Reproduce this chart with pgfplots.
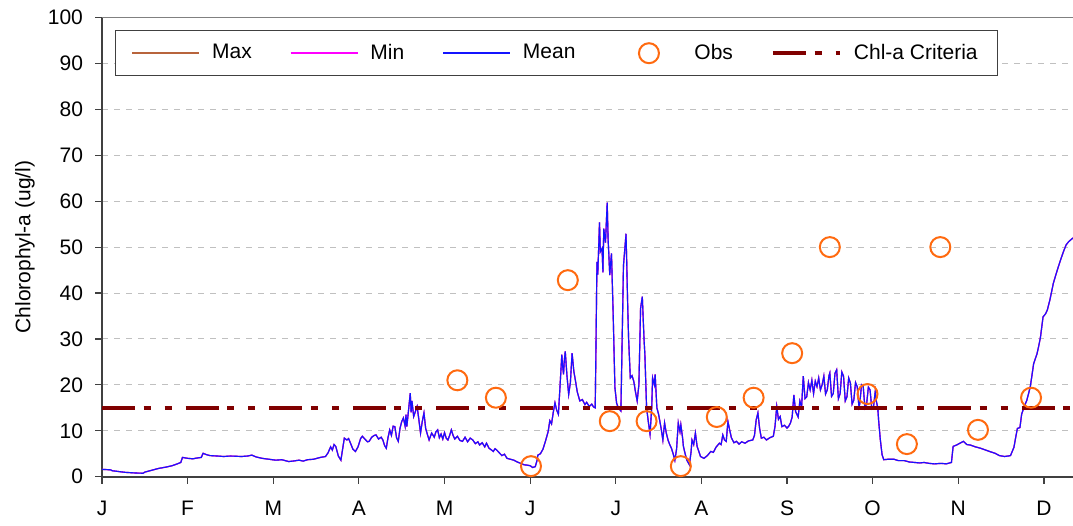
\documentclass[border=0pt]{standalone}
\usepackage{pgfplots}
\pgfplotsset{compat=1.18}
\usepackage{pgfplotstable}
\usepackage{fontspec}
\setmainfont{Liberation Sans}
\definecolor{maxc}{HTML}{B8643C}
\definecolor{minc}{HTML}{FF00FF}
\definecolor{meanc}{HTML}{1414FF}
\definecolor{obsc}{HTML}{FF6A10}
\definecolor{critc}{HTML}{800000}
\definecolor{gridc}{HTML}{C0C0C0}
\definecolor{axc}{HTML}{404040}

\pgfplotsset{
  obslegend/.style={legend image code/.code={\path[draw=none] (0pt,0pt) -- (34.5pt,0pt); \draw[##1] plot coordinates {(17.75pt,0pt)};}}
}

\pgfplotstableread{
m y
0.00 1.6
0.10 1.5
0.12 1.3
0.27 0.95
0.40 0.8
0.48 0.75
0.50 1.0
0.54 1.2
0.60 1.5
0.66 1.8
0.75 2.1
0.82 2.4
0.88 2.8
0.92 3.1
0.94 4.2
1.00 4.0
1.06 3.9
1.12 4.1
1.16 4.2
1.18 5.1
1.22 4.8
1.26 4.6
1.35 4.5
1.42 4.4
1.50 4.5
1.63 4.4
1.70 4.5
1.75 4.7
1.80 4.3
1.87 4.0
1.95 3.8
2.03 3.6
2.10 3.7
2.18 3.3
2.23 3.4
2.30 3.6
2.35 3.4
2.40 3.7
2.47 3.8
2.55 4.2
2.61 4.4
2.64 5.2
2.67 6.5
2.69 5.8
2.71 7.0
2.73 6.6
2.76 4.5
2.79 3.6
2.81 6.0
2.83 8.4
2.86 8.0
2.88 8.3
2.90 7.4
2.93 6.0
2.96 5.5
2.99 6.5
3.02 8.3
3.04 8.8
3.07 8.2
3.10 7.6
3.12 7.7
3.15 8.6
3.18 9.0
3.20 9.1
3.23 8.2
3.26 8.6
3.28 8.0
3.30 6.8
3.32 6.2
3.34 8.5
3.36 10.2
3.38 9.0
3.40 11.0
3.42 10.9
3.44 8.5
3.46 7.7
3.48 10.5
3.50 12.0
3.52 12.8
3.54 11.0
3.55 13.5
3.56 10.9
3.58 14.5
3.60 18.2
3.61 14.0
3.62 16.5
3.64 13.1
3.66 14.2
3.68 15.3
3.70 12.5
3.72 9.5
3.74 12.0
3.76 13.9
3.78 10.5
3.80 9.2
3.82 8.0
3.85 9.5
3.88 8.6
3.90 9.8
3.92 10.2
3.94 8.5
3.96 9.3
3.98 8.2
4.00 9.6
4.02 8.4
4.04 8.0
4.06 9.0
4.08 10.2
4.10 9.0
4.12 8.2
4.15 8.8
4.18 7.9
4.21 7.7
4.24 8.6
4.27 7.6
4.30 8.4
4.33 8.0
4.36 7.2
4.39 7.6
4.41 6.9
4.44 7.4
4.47 6.5
4.49 7.3
4.52 6.2
4.55 5.8
4.57 5.5
4.59 6.1
4.61 5.8
4.64 5.2
4.67 4.6
4.70 4.9
4.73 4.0
4.77 3.8
4.81 3.6
4.85 3.2
4.89 2.9
4.93 2.6
4.97 2.5
5.00 2.4
5.03 2.0
5.06 2.2
5.08 3.5
5.09 4.7
5.12 5.0
5.15 6.0
5.18 7.8
5.21 9.8
5.23 12.2
5.25 11.5
5.27 14.0
5.29 16.1
5.31 14.5
5.33 13.6
5.35 20.0
5.37 26.6
5.38 24.0
5.39 22.3
5.40 25.5
5.41 27.3
5.43 22.0
5.45 17.9
5.47 20.5
5.49 26.9
5.51 23.0
5.53 20.8
5.55 18.5
5.58 16.5
5.61 16.8
5.64 15.7
5.66 16.2
5.69 15.3
5.72 15.8
5.74 15.2
5.76 15.0
5.77 30.0
5.78 46.8
5.79 44.0
5.81 55.4
5.82 49.0
5.84 49.7
5.85 44.5
5.86 54.0
5.88 51.0
5.90 59.7
5.91 52.0
5.93 43.9
5.94 46.5
5.95 48.6
5.96 42.0
5.97 35.2
5.99 19.4
6.01 16.0
6.03 15.0
6.06 14.3
6.07 25.0
6.09 46.0
6.12 52.9
6.13 45.0
6.14 36.7
6.15 30.0
6.17 21.5
6.19 22.0
6.21 20.8
6.23 18.5
6.25 16.5
6.27 20.0
6.29 36.7
6.31 39.2
6.33 30.0
6.34 26.6
6.36 15.0
6.38 12.0
6.40 9.3
6.42 15.0
6.43 21.5
6.45 20.0
6.46 22.3
6.48 15.0
6.50 13.6
6.53 10.5
6.55 8.0
6.57 11.7
6.59 9.5
6.61 8.0
6.63 7.0
6.65 6.2
6.67 5.0
6.69 3.6
6.71 6.0
6.73 11.7
6.75 9.8
6.76 11.3
6.78 8.5
6.79 6.6
6.81 5.0
6.83 3.6
6.86 2.6
6.88 5.5
6.89 8.0
6.91 7.0
6.93 9.5
6.95 6.6
6.97 5.5
6.99 4.4
7.03 4.0
7.07 4.6
7.11 5.5
7.14 5.3
7.17 6.4
7.21 7.3
7.23 7.0
7.25 9.1
7.27 8.0
7.29 7.7
7.31 12.0
7.33 10.2
7.35 8.5
7.38 7.4
7.41 7.7
7.44 7.1
7.47 7.6
7.51 7.3
7.55 7.8
7.60 8.0
7.62 9.0
7.64 12.4
7.66 13.9
7.68 10.5
7.70 8.4
7.73 8.6
7.76 8.0
7.80 8.5
7.84 8.8
7.86 11.0
7.88 15.3
7.90 12.5
7.92 13.1
7.94 10.9
7.97 11.2
8.00 10.6
8.02 11.0
8.04 11.7
8.06 13.0
8.08 17.8
8.10 14.2
8.13 13.0
8.15 16.5
8.17 15.2
8.19 21.9
8.21 17.0
8.23 17.4
8.25 20.5
8.27 18.9
8.29 21.0
8.31 18.1
8.33 20.8
8.35 19.6
8.37 21.5
8.39 18.9
8.41 20.0
8.43 21.9
8.45 18.0
8.47 18.9
8.49 22.0
8.50 22.6
8.52 17.5
8.54 18.1
8.56 22.5
8.58 23.3
8.60 17.0
8.62 18.1
8.64 22.8
8.66 21.9
8.68 16.5
8.70 17.4
8.72 21.5
8.74 20.4
8.76 15.8
8.78 16.7
8.80 20.5
8.82 19.6
8.84 15.2
8.85 15.9
8.87 20.0
8.89 19.6
8.91 15.0
8.93 15.9
8.95 19.5
8.97 18.9
8.99 14.8
9.01 15.2
9.03 18.5
9.04 16.7
9.06 15.0
9.07 12.2
9.09 8.0
9.11 4.8
9.13 3.7
9.18 3.8
9.25 3.8
9.30 3.5
9.37 3.5
9.43 3.2
9.49 3.1
9.55 3.0
9.60 3.1
9.66 2.9
9.72 2.8
9.80 2.9
9.86 2.8
9.92 3.1
9.94 6.6
9.98 6.9
10.02 7.3
10.06 7.7
10.10 7.0
10.14 6.9
10.20 6.5
10.26 6.2
10.32 5.8
10.38 5.4
10.43 5.1
10.48 4.6
10.54 4.4
10.58 4.5
10.61 4.6
10.65 6.4
10.67 8.5
10.69 10.5
10.72 10.7
10.74 13.6
10.77 15.3
10.80 16.6
10.84 19.5
10.86 22.0
10.88 24.6
10.92 26.8
10.94 28.5
10.96 30.4
10.99 34.8
11.02 35.5
11.04 36.3
11.07 38.5
11.11 42.1
11.14 44.0
11.17 45.8
11.20 47.5
11.23 49.1
11.26 50.5
11.29 51.2
11.34 52.0
}\meandata

\pgfplotstableread{
m y
4.15 21.0
4.60 17.2
5.01 2.3
5.44 42.8
5.93 12.1
6.36 12.1
6.76 2.3
7.18 13.0
7.61 17.2
8.06 26.9
8.50 50.0
8.94 18.0
9.40 7.1
9.79 50.0
10.23 10.2
10.85 17.2
}\obsdata

\pgfplotstableread{
m y
0.00 15
11.34 15
}\critdata

\begin{document}
\begin{tikzpicture}
\begin{axis}[name=ax,
  scale only axis, width=485.5pt, height=229.6pt,
  xmin=0, xmax=11.34, ymin=0, ymax=100,
  clip=false,
  axis lines=left,
  axis line style={-, draw=axc, line width=1pt},
  xtick={0,1,...,11},
  xticklabels={J,F,M,A,M,J,J,A,S,O,N,D},
  ytick={0,10,...,100},
  tick align=outside, major tick length=3.5pt,
  tick style={draw=axc, line width=0.6pt},
  ymajorgrids,
  grid style={draw=gridc, line width=0.5pt, dash pattern=on 3pt off 3pt},
  /pgf/number format/assume math mode=true,
  tick label style={font=\fontsize{10.5}{12}\selectfont},
  xticklabel style={yshift=-5pt},
  yticklabel style={xshift=-2.5pt},
  ylabel={Chlorophyl-a (ug/l)},
  ylabel style={at={(axis description cs:-0.0793,0.5)}, anchor=center, font=\fontsize{10.5}{12}\selectfont},
  legend columns=5,
  legend style={at={(axis description cs:0.0134,0.9728)}, anchor=north west,
    draw=axc, line width=0.6pt, fill=white,
    inner xsep=8pt, inner ysep=4.75pt,
    font=\fontsize{10.5}{12}\selectfont,
    /tikz/every odd column/.append style={column sep=4pt},
    /tikz/every even column/.append style={column sep=17pt}},
  legend image code/.code={\draw[#1] (0pt,0pt) -- (33.5pt,0pt);},
]
\addlegendimage{draw=maxc, line width=0.8pt}
\addlegendentry{Max}
\addlegendimage{draw=minc, line width=0.8pt}
\addlegendentry{Min}
\addlegendimage{draw=meanc, line width=0.8pt}
\addlegendentry{Mean}
\addplot[forget plot, draw=maxc, line width=0.6pt] table[x=m,y=y] {\meandata};
\addplot[forget plot, draw=minc, line width=0.6pt] table[x=m,y=y] {\meandata};
\addplot[forget plot, draw=meanc, line width=0.55pt] table[x=m,y=y] {\meandata};
\addplot[only marks, mark=o, mark size=5pt, draw=obsc, line width=1pt, obslegend]
  table[x=m,y=y] {\obsdata};
\addlegendentry{Obs}
\addplot[draw=critc, line width=2pt, dash pattern=on 16.5pt off 4.3pt on 3.5pt off 7pt on 3.5pt off 7pt] table[x=m,y=y] {\critdata};
\addlegendentry{Chl-a Criteria}
\draw[black!50, line width=0.75pt] (rel axis cs:0,1) -- (rel axis cs:1,1);
\end{axis}
\pgfresetboundingbox
\useasboundingbox ([xshift=-51pt,yshift=-24.15pt]ax.south west) rectangle ([yshift=8.75pt]ax.north east);
\end{tikzpicture}
\end{document}
